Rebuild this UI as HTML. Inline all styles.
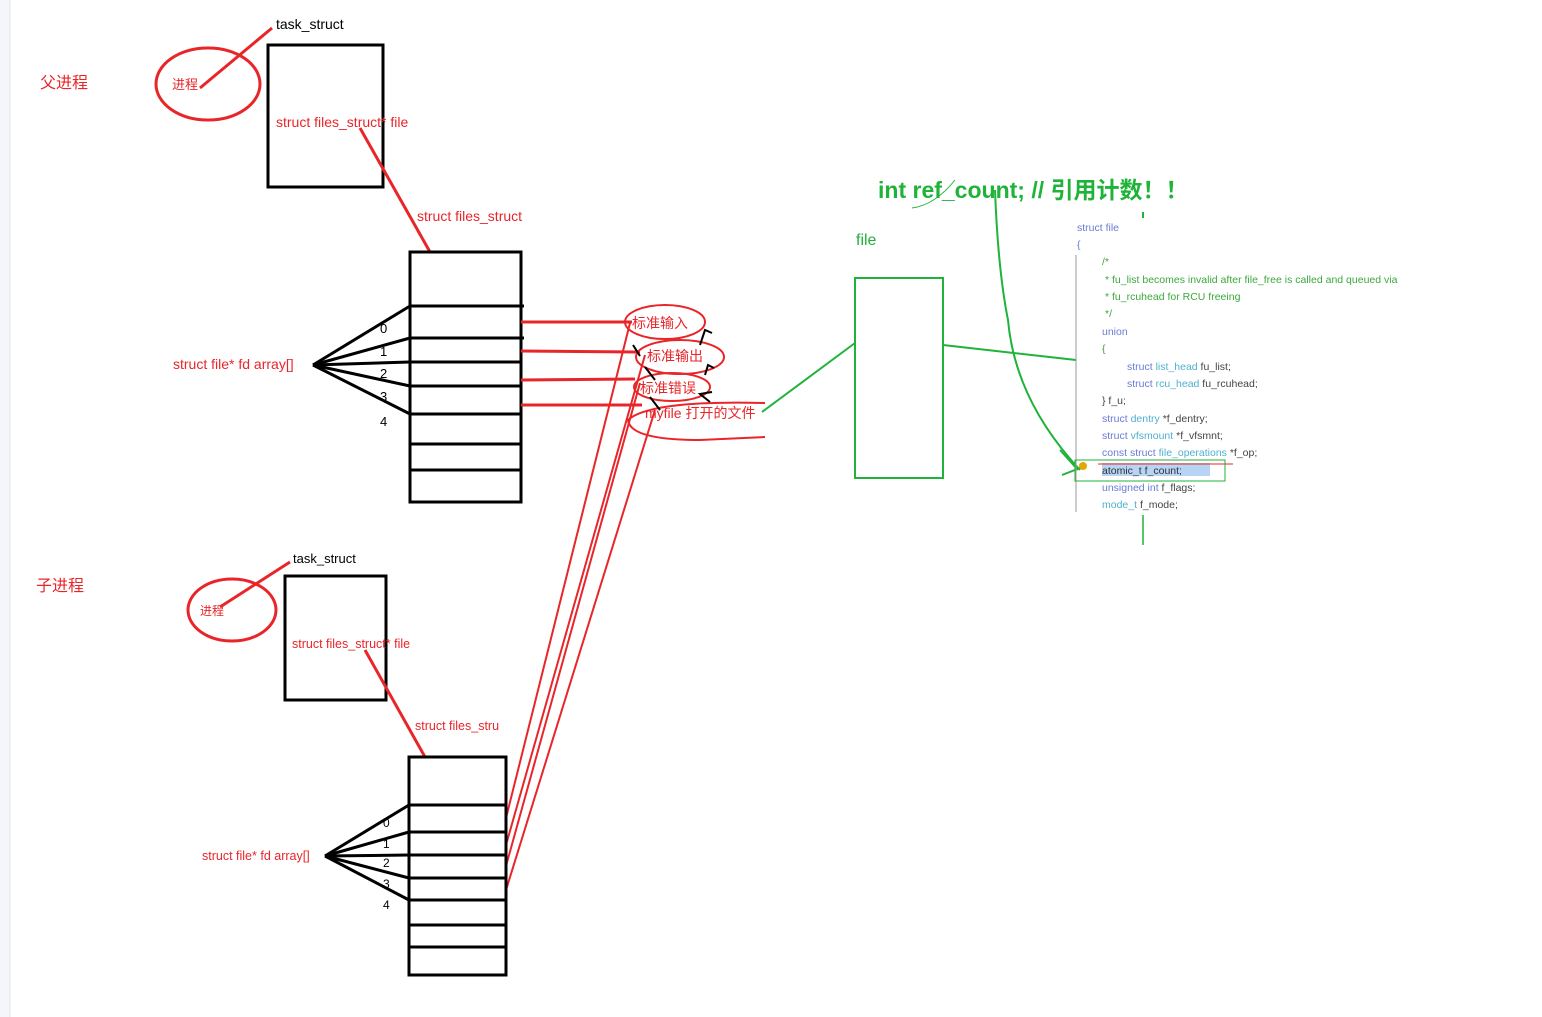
<!DOCTYPE html>
<html><head><meta charset="utf-8"><style>
html,body{margin:0;padding:0;background:#fff;width:1542px;height:1017px;overflow:hidden}
svg text{font-family:"Liberation Sans","Noto Sans CJK SC",sans-serif}
.code{font-family:"Liberation Mono","DejaVu Sans Mono",monospace;font-size:10.5px}
</style></head><body>
<svg width="1542" height="1017" viewBox="0 0 1542 1017" xmlns="http://www.w3.org/2000/svg">
<rect x="0" y="0" width="10" height="1017" fill="#f4f6f9"/>
<line x1="10" y1="0" x2="10" y2="1017" stroke="#e3e6ea"/>

<!-- Parent -->
<text x="40" y="88" fill="#e8262a" font-size="16">父进程</text>
<ellipse cx="208" cy="84" rx="52" ry="36" fill="none" stroke="#e8262a" stroke-width="3"/>
<text x="172" y="89" fill="#e8262a" font-size="13">进程</text>
<line x1="272" y1="28" x2="200" y2="88" stroke="#e8262a" stroke-width="3"/>
<text x="276" y="29" fill="#000" font-size="14">task_struct</text>
<rect x="268" y="45" width="115" height="142" fill="none" stroke="#000" stroke-width="3"/>
<text x="276" y="127" fill="#e8262a" font-size="14">struct files_struct* file</text>
<line x1="360" y1="128" x2="430" y2="252" stroke="#e8262a" stroke-width="3"/>
<text x="417" y="221" fill="#e8262a" font-size="14">struct files_struct</text>
<rect x="410" y="252" width="111" height="250" fill="none" stroke="#000" stroke-width="3"/>
<g stroke="#000" stroke-width="3">
<line x1="410" y1="306" x2="524" y2="306"/><line x1="410" y1="338" x2="524" y2="338"/>
<line x1="410" y1="362" x2="521" y2="362"/><line x1="410" y1="386" x2="521" y2="386"/>
<line x1="410" y1="414" x2="521" y2="414"/><line x1="410" y1="444" x2="521" y2="444"/>
<line x1="410" y1="470" x2="521" y2="470"/>
<line x1="313" y1="365" x2="410" y2="306"/><line x1="313" y1="365" x2="410" y2="338"/>
<line x1="313" y1="365" x2="410" y2="362"/><line x1="313" y1="365" x2="410" y2="386"/>
<line x1="313" y1="365" x2="410" y2="414"/>
</g>
<g font-size="13" fill="#000"><text x="380" y="333">0</text><text x="380" y="356">1</text><text x="380" y="378">2</text><text x="380" y="401">3</text><text x="380" y="426">4</text></g>
<text x="173" y="369" fill="#e8262a" font-size="14">struct file* fd array[]</text>

<g stroke="#e8262a" stroke-width="3">
<line x1="521" y1="322" x2="632" y2="322"/><line x1="521" y1="351" x2="640" y2="352"/>
<line x1="521" y1="380" x2="635" y2="379"/><line x1="521" y1="405" x2="642" y2="405"/>
</g>
<g fill="none" stroke="#e8262a" stroke-width="2">
<ellipse cx="665" cy="322" rx="40" ry="17"/><ellipse cx="680" cy="357" rx="44" ry="17"/>
<ellipse cx="672" cy="387" rx="38" ry="14"/>
<path d="M765 403 Q650 400 628 420 Q630 440 700 440 L765 437"/>
</g>
<g fill="#e8262a" font-size="14">
<text x="632" y="328">标准输入</text><text x="647" y="361">标准输出</text>
<text x="640" y="393">标准错误</text><text x="645" y="418">myfile 打开的文件</text>
</g>
<g fill="none" stroke="#000" stroke-width="2">
<path d="M633 345 L640 356 M700 345 L705 330 L712 333"/>
<path d="M645 367 L655 380 M705 375 L708 365 L714 368"/>
<path d="M650 397 L660 410 M710 402 L700 394 L712 392"/>
</g>

<!-- child -> files lines -->
<g stroke="#e8262a" stroke-width="2">
<line x1="506" y1="818" x2="630" y2="323"/><line x1="506" y1="845" x2="645" y2="355"/>
<line x1="506" y1="866" x2="640" y2="383"/><line x1="506" y1="890" x2="655" y2="410"/>
</g>

<!-- green -->
<line x1="762" y1="412" x2="855" y2="343" stroke="#1fb33a" stroke-width="2"/>
<text x="856" y="245" fill="#1fb33a" font-size="16">file</text>
<rect x="855" y="278" width="88" height="200" fill="none" stroke="#1fb33a" stroke-width="2"/>
<line x1="943" y1="345" x2="1076" y2="360" stroke="#1fb33a" stroke-width="2"/>
<text x="878" y="198" fill="#1fb33a" font-size="23" font-weight="bold">int ref_count; // 引用计数！！</text>
<path d="M995 190 Q998 270 1008 320 Q1015 400 1080 470" fill="none" stroke="#1fb33a" stroke-width="2"/>
<path d="M1060 450 L1078 470 M1062 475 L1080 468" stroke="#1fb33a" stroke-width="2"/>
<path d="M912 208 Q935 205 955 180" fill="none" stroke="#1fb33a" stroke-width="1"/>

<!-- code -->
<g class="code">
<line x1="1076" y1="255" x2="1076" y2="512" stroke="#999"/>
<line x1="1143" y1="212" x2="1143" y2="218" stroke="#1fb33a" stroke-width="2"/>
<line x1="1143" y1="515" x2="1143" y2="545" stroke="#1fb33a" stroke-width="1.5"/>
<text x="1077" y="231" fill="#6a7bd6">struct file</text>
<text x="1077" y="248" fill="#6a7bd6">{</text>
<text x="1102" y="265" fill="#3ca83c">/*</text>
<text x="1105" y="283" fill="#3ca83c">* fu_list becomes invalid after file_free is called and queued via</text>
<text x="1105" y="300" fill="#3ca83c">* fu_rcuhead for RCU freeing</text>
<text x="1105" y="317" fill="#3ca83c">*/</text>
<text x="1102" y="335" fill="#6a7bd6">union</text>
<text x="1102" y="352" fill="#3ca83c">{</text>
<text x="1127" y="370"><tspan fill="#6a7bd6">struct </tspan><tspan fill="#4fb0d0">list_head</tspan><tspan fill="#444"> fu_list;</tspan></text>
<text x="1127" y="387"><tspan fill="#6a7bd6">struct </tspan><tspan fill="#4fb0d0">rcu_head</tspan><tspan fill="#444"> fu_rcuhead;</tspan></text>
<text x="1102" y="404" fill="#444">} f_u;</text>
<text x="1102" y="422"><tspan fill="#6a7bd6">struct </tspan><tspan fill="#4fb0d0">dentry</tspan><tspan fill="#444"> *f_dentry;</tspan></text>
<text x="1102" y="439"><tspan fill="#6a7bd6">struct </tspan><tspan fill="#4fb0d0">vfsmount</tspan><tspan fill="#444"> *f_vfsmnt;</tspan></text>
<text x="1102" y="456"><tspan fill="#6a7bd6">const struct </tspan><tspan fill="#4fb0d0">file_operations</tspan><tspan fill="#444"> *f_op;</tspan></text>
<rect x="1102" y="463" width="108" height="13" fill="#b7d4f5"/>
<text x="1102" y="474" fill="#333">atomic_t f_count;</text>
<line x1="1098" y1="464" x2="1233" y2="464" stroke="#e8262a"/>
<rect x="1075" y="460" width="150" height="21" fill="none" stroke="#1fb33a"/>
<circle cx="1083" cy="466" r="4" fill="#e0a800"/>
<text x="1102" y="491"><tspan fill="#6a7bd6">unsigned int</tspan><tspan fill="#444"> f_flags;</tspan></text>
<text x="1102" y="508"><tspan fill="#4fb0d0">mode_t</tspan><tspan fill="#444"> f_mode;</tspan></text>
</g>

<!-- Child -->
<text x="36" y="591" fill="#e8262a" font-size="16">子进程</text>
<ellipse cx="232" cy="610" rx="44" ry="31" fill="none" stroke="#e8262a" stroke-width="3"/>
<text x="200" y="615" fill="#e8262a" font-size="12">进程</text>
<line x1="290" y1="562" x2="220" y2="607" stroke="#e8262a" stroke-width="3"/>
<text x="293" y="563" fill="#000" font-size="13">task_struct</text>
<rect x="285" y="576" width="101" height="124" fill="none" stroke="#000" stroke-width="3"/>
<text x="292" y="648" fill="#e8262a" font-size="12.5">struct files_struct* file</text>
<line x1="365" y1="650" x2="425" y2="757" stroke="#e8262a" stroke-width="3"/>
<text x="415" y="730" fill="#e8262a" font-size="12.5">struct files_stru</text>
<rect x="409" y="757" width="97" height="218" fill="none" stroke="#000" stroke-width="3"/>
<g stroke="#000" stroke-width="3">
<line x1="409" y1="805" x2="506" y2="805"/><line x1="409" y1="832" x2="506" y2="832"/>
<line x1="409" y1="855" x2="506" y2="855"/><line x1="409" y1="878" x2="506" y2="878"/>
<line x1="409" y1="900" x2="506" y2="900"/><line x1="409" y1="925" x2="506" y2="925"/>
<line x1="409" y1="947" x2="506" y2="947"/>
<line x1="325" y1="856" x2="409" y2="805"/><line x1="325" y1="856" x2="409" y2="832"/>
<line x1="325" y1="856" x2="409" y2="855"/><line x1="325" y1="856" x2="409" y2="878"/>
<line x1="325" y1="856" x2="409" y2="900"/>
</g>
<g font-size="12" fill="#000"><text x="383" y="827">0</text><text x="383" y="848">1</text><text x="383" y="867">2</text><text x="383" y="888">3</text><text x="383" y="909">4</text></g>
<text x="202" y="860" fill="#e8262a" font-size="12.5">struct file* fd array[]</text>
</svg>
</body></html>
